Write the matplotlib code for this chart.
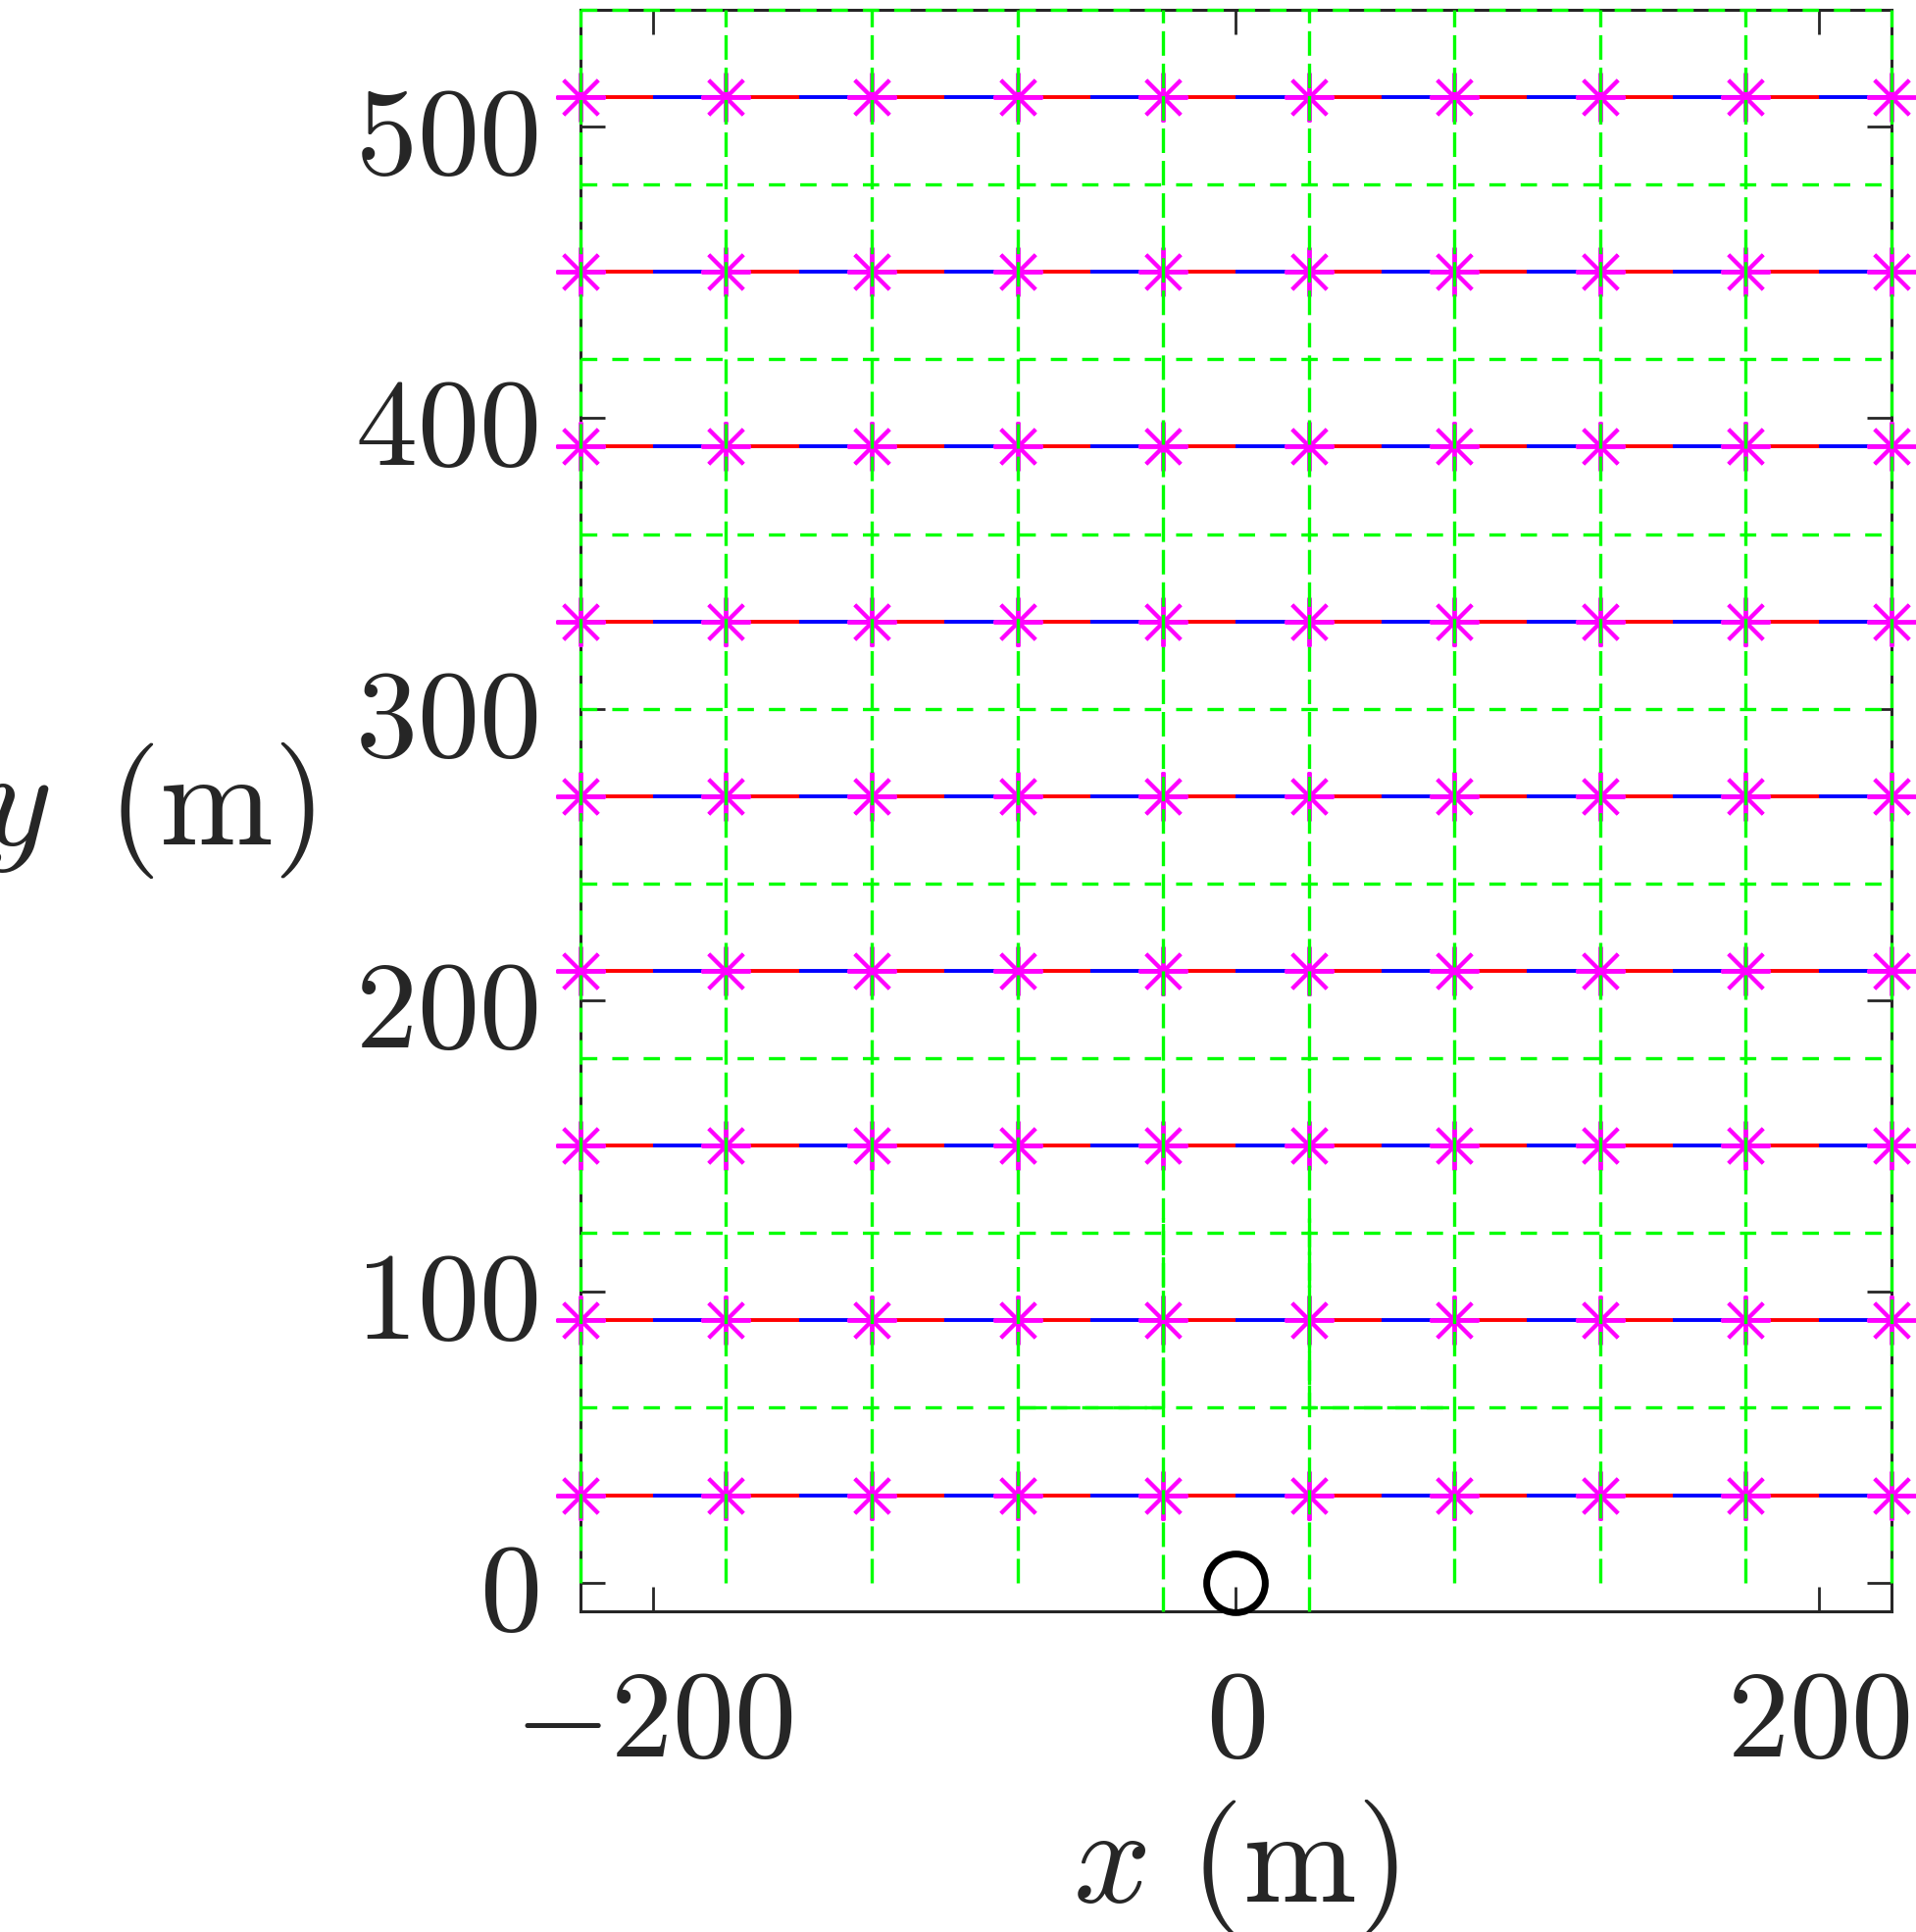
import numpy as np
import matplotlib
matplotlib.use("Agg")
import matplotlib.pyplot as plt

plt.rcParams['mathtext.fontset'] = 'cm'
plt.rcParams['lines.scale_dashes'] = False

# waypoint columns / rows (m)
wp_x = [-225, -175, -125, -75, -25, 25, 75, 125, 175, 225]
wp_y = [30, 90, 150, 210, 270, 330, 390, 450, 510]

# green dashed grid
grid_x = [-225, -175, -125, -75, -25, 25, 75, 125, 175, 225]
grid_x_bottom = [0, 0, 0, 0, -10, -10, 0, 0, 0, 0]
grid_y = [60, 120, 180, 240, 300, 360, 420, 480, 540]
grid_top = 540

# extra green pieces near the start
extra_x1 = [-75, -25, -25]
extra_y1 = [60, 60, 125]
extra_x2 = [25, 25, 75]
extra_y2 = [125, 60, 60]

# start point
start_x = [0]
start_y = [0]

dark = '#262626'
green = '#00ff00'

fig = plt.figure(figsize=(19.54, 19.70), dpi=100)
ax = fig.add_axes([0.3029, 0.1658, 0.6842, 0.8291])

# red / blue path along each row (red first half, blue second half)
for y in wp_y:
    for i in range(len(wp_x) - 1):
        xm = (wp_x[i] + wp_x[i + 1]) / 2
        ax.plot([wp_x[i], xm], [y, y], color='red', lw=2.8, zorder=2.6, clip_on=False, solid_capstyle='butt')
        ax.plot([xm, wp_x[i + 1]], [y, y], color='blue', lw=2.8, zorder=2.6, clip_on=False, solid_capstyle='butt')

# magenta asterisks
for y in wp_y:
    ax.plot(wp_x, [y] * len(wp_x), ls='none', marker=(8, 2, 0), ms=36, mew=2.8,
            color='magenta', zorder=2.7, clip_on=False)

# green grid
for x, yb in zip(grid_x, grid_x_bottom):
    ax.plot([x, x], [yb, grid_top], color=green, lw=2.4, dashes=(18, 5.8), zorder=3, clip_on=False)
for y in grid_y:
    ax.plot([grid_x[0], grid_x[-1]], [y, y], color=green, lw=2.4, dashes=(12, 11), zorder=3, clip_on=False)
ax.plot(extra_x1, extra_y1, color=green, lw=2.4, dashes=(21, 3.5), zorder=3, clip_on=False)
ax.plot(extra_x2, extra_y2, color=green, lw=2.4, dashes=(21, 3.5), zorder=3, clip_on=False)

# start point
ax.plot(start_x, start_y, ls='none', marker='o', ms=43, mfc='none', mec='black', mew=5, zorder=3.1, clip_on=False)

ax.set_xlim(-225, 225)
ax.set_ylim(-10, 540)
ax.set_xticks([-200, 0, 200])
ax.set_yticks([0, 100, 200, 300, 400, 500])
ax.set_xticklabels([r'$-200$', r'$0$', r'$200$'])
ax.set_yticklabels([r'$%d$' % v for v in [0, 100, 200, 300, 400, 500]])
ax.tick_params(direction='in', length=18, width=2, colors=dark, labelsize=91,
               top=True, right=True)
ax.tick_params(axis='x', pad=37)
ax.tick_params(axis='y', pad=31)
for s in ax.spines.values():
    s.set_color(dark)
    s.set_linewidth(2.2)

ax.set_xlabel(r'$x\ (\mathrm{m})$', fontsize=100, color=dark, labelpad=12)
ax.set_ylabel(r'$y\ \,(\mathrm{m})$', fontsize=100, color=dark, rotation=0, ha='center', va='center')
ax.yaxis.set_label_coords(-0.33, 0.5)

fig.savefig('out.png', dpi=100)
